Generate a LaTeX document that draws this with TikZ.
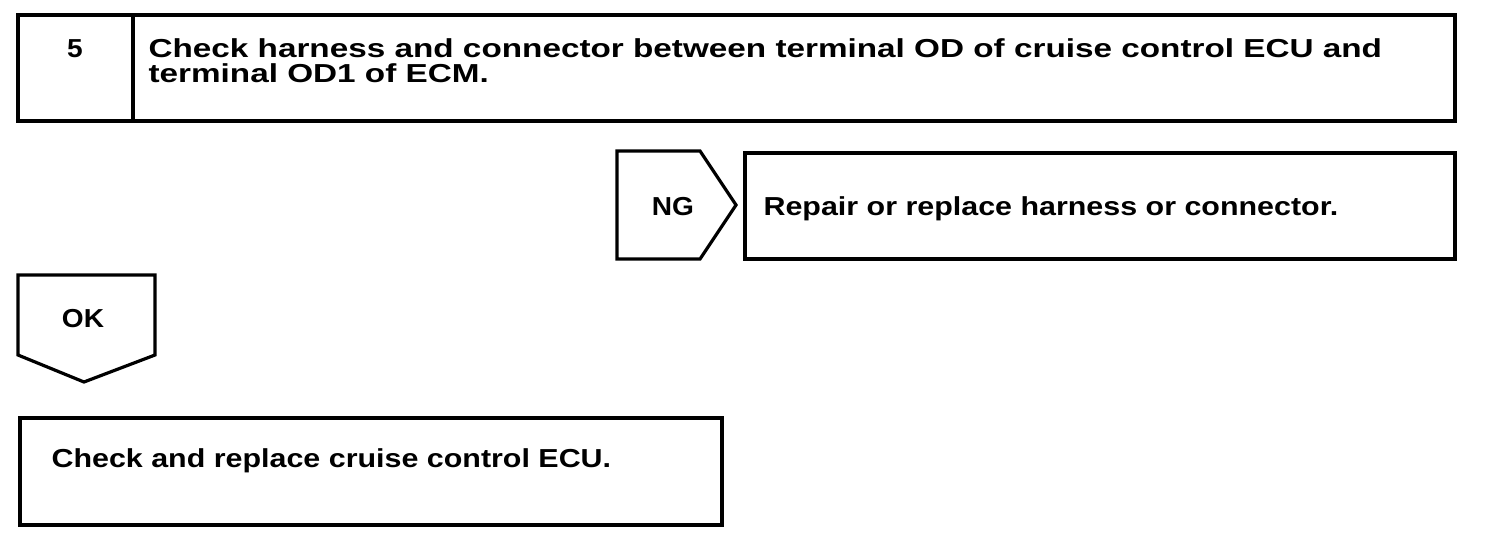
\documentclass[tikz,border=0pt]{standalone}
\usepackage{fontspec}
\newfontfamily\ftop{Liberation Sans}[FakeStretch=1.28]
\newfontfamily\fbot{Liberation Sans}[FakeStretch=1.17]
\newfontfamily\flab{Liberation Sans}[FakeStretch=1.08]
\begin{document}
\begin{tikzpicture}[x=1pt,y=-1pt,
  line width=3.2pt, line join=miter,
  cell/.style={draw, anchor=north west, inner sep=0pt, outer sep=0pt},
  toptxt/.style={anchor=base west, inner sep=0pt, font=\ftop\bfseries\fontsize{26}{22}\selectfont},
  bottxt/.style={anchor=base west, inner sep=0pt, font=\fbot\bfseries\fontsize{26}{22}\selectfont},
  labtxt/.style={anchor=base, inner sep=0pt, font=\flab\bfseries\fontsize{26}{22}\selectfont}]
\useasboundingbox (0,0) rectangle (1504,538);
% top step box
\node[cell, minimum width=115pt, minimum height=106pt] (num) at (18,15) {};
\node[cell, minimum width=1322pt, minimum height=106pt] (step) at (133,15) {};
\node[labtxt] (n5) at (75,57) {5};
\node[toptxt] (t1) at (147,57) {Check harness and connector between terminal OD of cruise control ECU and};
\node[toptxt] (t2) at (147,82) {terminal OD1 of ECM.};
% NG arrow
\draw (617,151) -- (700,151) -- (736,205) -- (700,259) -- (617,259) -- cycle;
\node[labtxt] (ng) at (673,215) {NG};
\node[cell, minimum width=710pt, minimum height=106pt] (rep) at (745,153) {};
\node[bottxt] (reptxt) at (762,215) {Repair or replace harness or connector.};
% OK arrow
\draw (18,275) -- (155,275) -- (155,355) -- (84,382) -- (18,355) -- cycle;
\node[labtxt] (ok) at (83,327) {OK};
\node[cell, minimum width=702pt, minimum height=107pt] (ecu) at (20,418) {};
\node[bottxt] (ecutxt) at (50,467) {Check and replace cruise control ECU.};
\end{tikzpicture}
\end{document}
